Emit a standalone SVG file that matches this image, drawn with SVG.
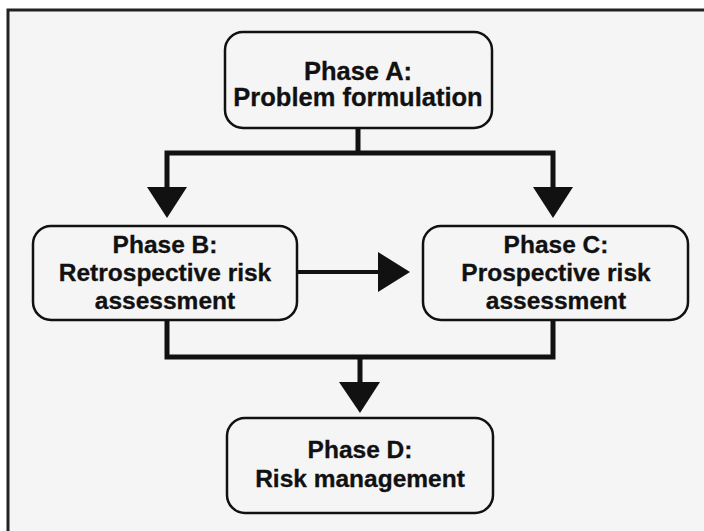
<svg xmlns="http://www.w3.org/2000/svg" width="704" height="531" viewBox="0 0 704 531">
<style>
.bg{fill:#f5f5f5}
.frame{fill:none;stroke:#222;stroke-width:3}
.box{fill:#f5f5f5;stroke:#111;stroke-width:2.5}
.lbl{font-family:"Liberation Sans",Arial,sans-serif;font-weight:bold;font-size:24.5px;fill:#111;stroke:#111;stroke-width:0.3;text-anchor:middle}
.wire{fill:none;stroke:#111;stroke-width:5;stroke-linejoin:miter}
.head{fill:#111}
</style>
<rect x="0" y="0" width="704" height="531" fill="#ffffff"/>
<rect class="bg" x="8" y="10" width="696" height="521"/>
<path class="frame" d="M8,531 V10 H704"/>
<g id="connectors">
<path class="wire" d="M358,128 V153"/>
<path class="wire" d="M167,190 V153 H553 V190"/>
<polygon class="head" points="147,187 187,187 167,218"/>
<polygon class="head" points="533,187 573,187 553,218"/>
<path class="wire" style="stroke-width:4" d="M297,272 H380"/>
<polygon class="head" points="378,252 378,292 410,272"/>
<path class="wire" d="M167,320 V357 H553 V320"/>
<path class="wire" d="M360,357 V384"/>
<polygon class="head" points="339,382 380,382 360,413"/>
</g>
<g id="phaseA">
<rect class="box" x="225" y="32" width="267" height="96" rx="18"/>
<text class="lbl" x="358" y="80" style="font-size:25.5px">Phase A:</text>
<text class="lbl" x="358" y="106" style="font-size:25.5px">Problem formulation</text>
</g>
<g id="phaseB">
<rect class="box" x="33" y="226" width="264" height="94" rx="18"/>
<text class="lbl" x="165" y="253">Phase B:</text>
<text class="lbl" x="165" y="281">Retrospective risk</text>
<text class="lbl" x="165" y="309">assessment</text>
</g>
<g id="phaseC">
<rect class="box" x="423" y="226" width="265" height="94" rx="18"/>
<text class="lbl" x="556" y="253">Phase C:</text>
<text class="lbl" x="556" y="281">Prospective risk</text>
<text class="lbl" x="556" y="309">assessment</text>
</g>
<g id="phaseD">
<rect class="box" x="227" y="418" width="266" height="95" rx="18"/>
<text class="lbl" x="360" y="458">Phase D:</text>
<text class="lbl" x="360" y="487">Risk management</text>
</g>
</svg>
